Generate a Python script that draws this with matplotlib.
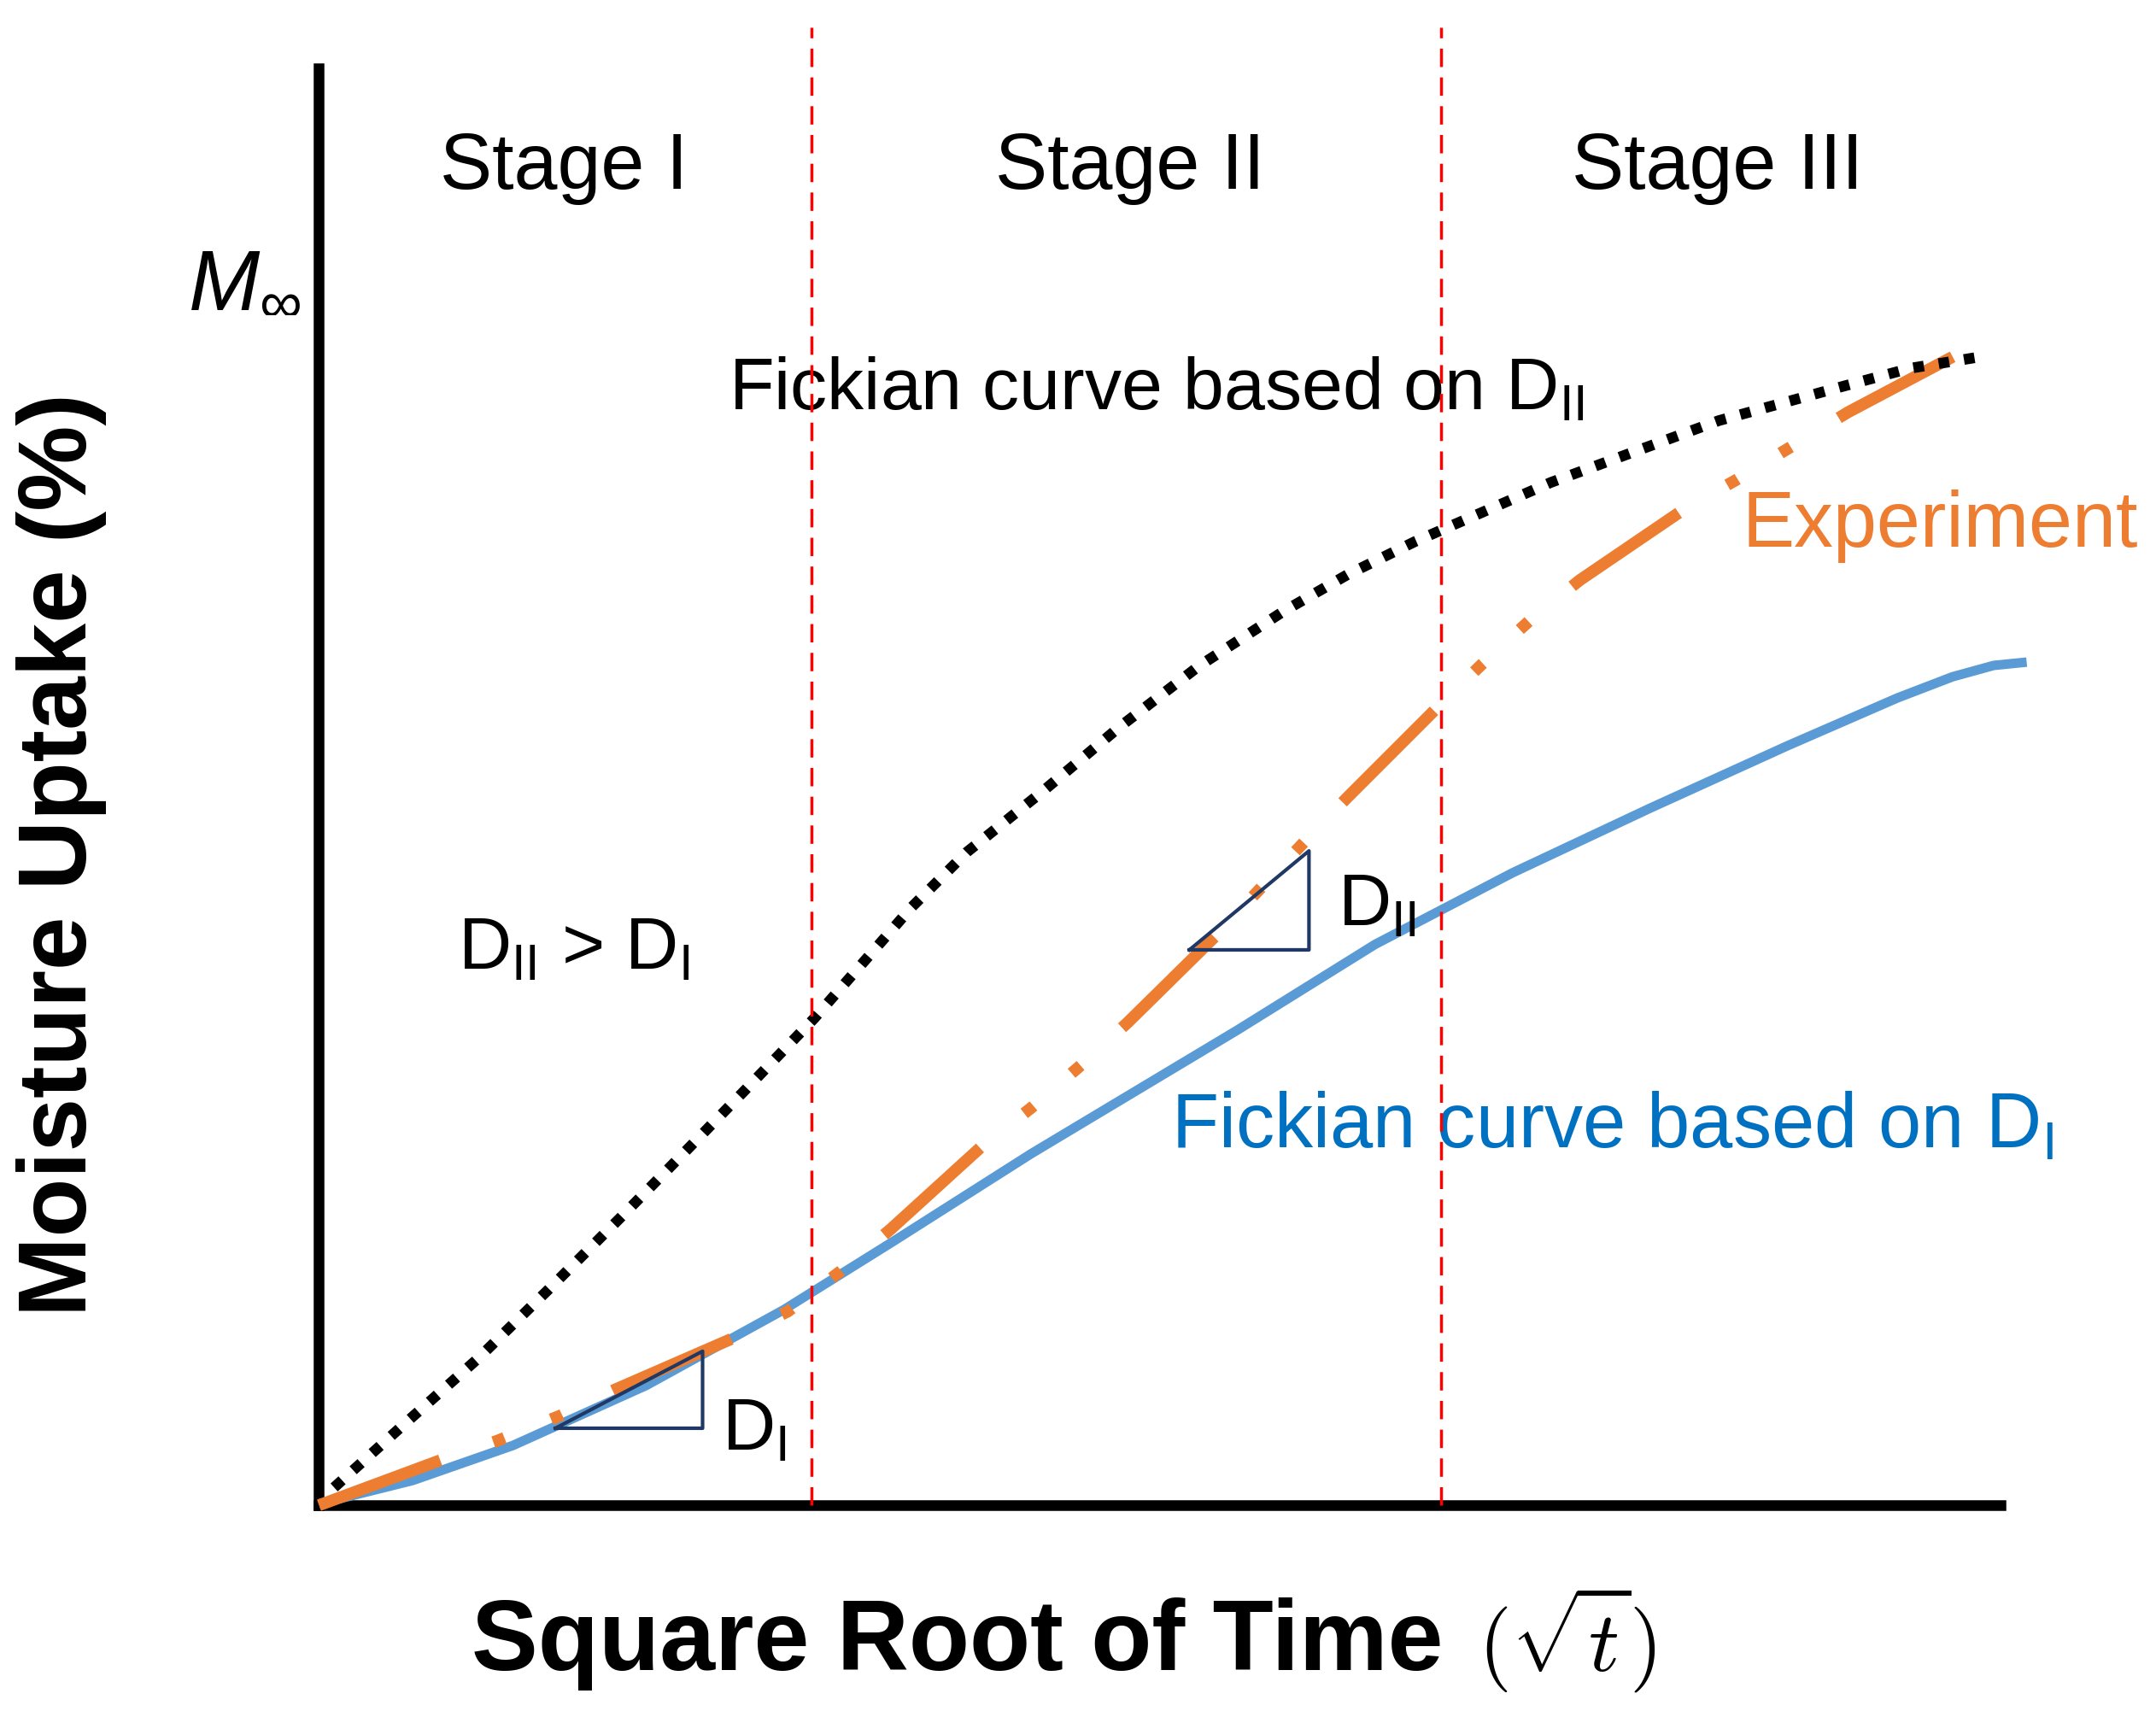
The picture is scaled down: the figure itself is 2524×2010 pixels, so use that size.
import matplotlib.pyplot as plt

plt.rcParams['font.family'] = ['Liberation Sans', 'DejaVu Sans']
plt.rcParams['mathtext.fontset'] = 'custom'
plt.rcParams['mathtext.rm'] = 'Liberation Sans'
plt.rcParams['mathtext.it'] = 'Liberation Sans:italic'
plt.rcParams['mathtext.bf'] = 'Liberation Sans:bold'

# sqrt(time) and uptake, both scaled so the drawn axes end at 1 (uptake 1 = M_inf level)
exp_x = [0.0, 0.0728, 0.1063, 0.1431, 0.1758, 0.2453, 0.2788, 0.3099, 0.3401, 0.3941,
         0.4235, 0.4530, 0.4808, 0.5331, 0.5593, 0.5871, 0.6116, 0.6656, 0.6917, 0.7212,
         0.7498, 0.8111, 0.8430, 0.8782, 0.9092, 0.9771]
exp_y = [0.0, 0.0316, 0.0450, 0.0622, 0.0804, 0.1158, 0.1349, 0.1627, 0.1923, 0.2498,
         0.2766, 0.3062, 0.3359, 0.3962, 0.4287, 0.4632, 0.4928, 0.5560, 0.5856, 0.6172,
         0.6440, 0.6928, 0.7139, 0.7388, 0.7608, 0.8029]

# Fickian curve based on D_I
fick1_x = [0.0, 0.0556, 0.1153, 0.1946, 0.2764, 0.3418, 0.4235, 0.5462, 0.6280, 0.7097,
           0.7915, 0.8733, 0.9387, 0.9714, 0.9959, 1.0155]
fick1_y = [0.0010, 0.0172, 0.0416, 0.0834, 0.1361, 0.1839, 0.2447, 0.3308, 0.3904, 0.4402,
           0.4852, 0.5287, 0.5620, 0.5767, 0.5846, 0.5869]

# Fickian curve based on D_II
fick2_x = [0.0090, 0.0507, 0.0948, 0.1365, 0.1791, 0.2208, 0.2518, 0.2944, 0.3524, 0.3851,
           0.4301, 0.4759, 0.5233, 0.5732, 0.6116, 0.6517, 0.7326, 0.8324, 0.9035, 0.9460,
           0.9910]
fick2_y = [0.0124, 0.0565, 0.1024, 0.1502, 0.2000, 0.2498, 0.2871, 0.3388, 0.4163, 0.4545,
           0.4967, 0.5416, 0.5842, 0.6220, 0.6478, 0.6708, 0.7120, 0.7550, 0.7780, 0.7914,
           0.8000]

# stage boundaries and names
stage_bounds = [0.2930, 0.6670]
stage_names = ['Stage I', 'Stage II', 'Stage III']

# slope triangles
tri1_x = [0.1406, 0.2281, 0.2281, 0.1406]
tri1_y = [0.0536, 0.0536, 0.1072, 0.0536]
tri2_x = [0.5176, 0.5887, 0.5887, 0.5176]
tri2_y = [0.3866, 0.3866, 0.4555, 0.3866]

fig = plt.figure(figsize=(25.24, 20.10), dpi=100)
ax = fig.add_axes([0, 0, 1, 1])
ax.set_xlim(-0.1897, 1.0924)
ax.set_ylim(-0.1474, 1.0478)

for side in ['top', 'right']:
    ax.spines[side].set_visible(False)
for side in ['left', 'bottom']:
    ax.spines[side].set_position(('data', 0))
    ax.spines[side].set_linewidth(9)
    ax.spines[side].set_capstyle('projecting')
    ax.spines[side].set_bounds(0, 1)
ax.set_xticks([])
ax.set_yticks([])

ax.plot(fick1_x, fick1_y, color='#5B9BD5', lw=8, solid_capstyle='butt',
        solid_joinstyle='round', zorder=3)
ax.plot(exp_x, exp_y, color='#ED7D31', lw=10, dashes=(10.9, 4.73, 1, 4.23, 1, 4.73),
        zorder=4)
ax.plot(fick2_x, fick2_y, color='black', lw=9, dashes=(1, 1.4), zorder=4)
ax.plot(tri1_x, tri1_y, color='#1F3864', lw=3, zorder=5)
ax.plot(tri2_x, tri2_y, color='#1F3864', lw=3, zorder=5)

for xb in stage_bounds:
    ax.vlines(xb, 0, 1.029, color='#FF0000', lw=2.5, linestyles=(0, (6.2, 3.5)), zorder=6)

stage_x = [0.1455, 0.4824, 0.8316]
for name, sx in zip(stage_names, stage_x):
    ax.text(sx, 0.9165, name, fontsize=66, ha='center', va='baseline')

ax.text(-0.0777, 0.8354, r'$M_{\infty}$', fontsize=72, ha='left', va='baseline')

ax.text(0.2437, 0.7627, r'Fickian curve based on D$_{\mathrm{II}}$', fontsize=62,
        ha='left', va='baseline')
ax.text(0.8463, 0.6675, 'Experiment', fontsize=66, color='#ED7D31',
        ha='left', va='baseline')
ax.text(0.5069, 0.2488, r'Fickian curve based on D$_{\mathrm{I}}$', fontsize=65,
        color='#0070C0', ha='left', va='baseline')
ax.text(0.0826, 0.3732, r'D$_{\mathrm{II}}$ > D$_{\mathrm{I}}$', fontsize=62,
        ha='left', va='baseline')
ax.text(0.2396, 0.0383, r'D$_{\mathrm{I}}$', fontsize=62, ha='left', va='baseline')
ax.text(0.6059, 0.4038, r'D$_{\mathrm{II}}$', fontsize=62, ha='left', va='baseline')

ax.text(-0.153, 0.4526, 'Moisture Uptake (%)', fontsize=81, fontweight='bold',
        rotation=90, ha='center', va='center')
ax.text(0.0908, -0.1148, 'Square Root of Time', fontsize=84, fontweight='bold',
        ha='left', va='baseline')
ax.text(0.6893, -0.1148, r'$(\sqrt{t})$', fontsize=72, math_fontfamily='cm',
        ha='left', va='baseline')

fig.savefig('out.png', dpi=100)
